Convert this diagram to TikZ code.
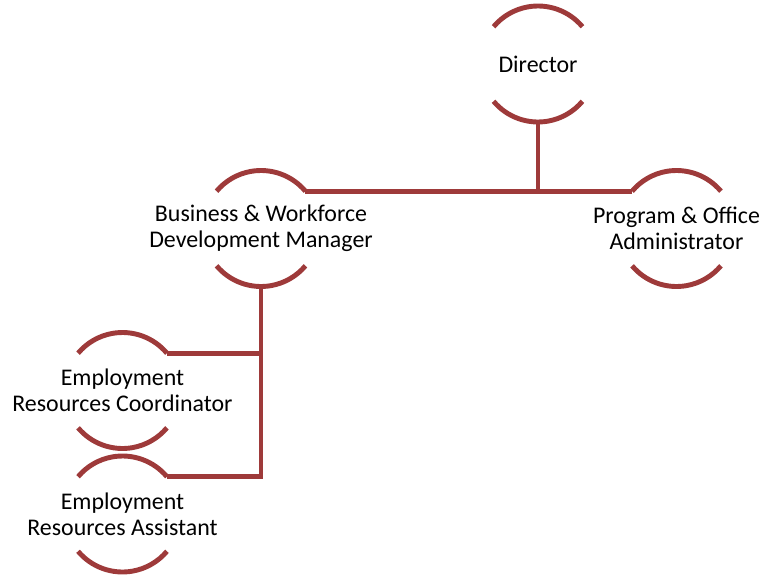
\documentclass[tikz,border=0pt]{standalone}
\usepackage{fontspec}
\setmainfont{Carlito}
\definecolor{orgred}{RGB}{158,58,58}

\begin{document}
\begin{tikzpicture}[ring/.style={orgred, line width=3.5pt},
    post/.style={font=\fontsize{17}{18.3}\selectfont, align=center, inner sep=0pt}]

    \useasboundingbox (0,0) rectangle (19.075,-14.375);

    % The posts
    \node[post] (director) at (13.45,-1.6) {Director};
    \node[post] (manager) at (6.525,-5.7125) {Business \& Workforce\\Development Manager};
    \node[post] (admin) at (16.9125,-5.7125) {Program \& Office\\Administrator};
    \node[post] (coord) at (3.0625,-9.7625) {Employment\\Resources Coordinator};
    \node[post] (assist) at (3.0625,-12.85) {Employment\\Resources Assistant};

    % Two arcs round each post
    \foreach \n in {director,manager,admin,coord,assist}{
        \draw[ring] ([shift={(40:1.45)}]\n.center) arc[start angle=40, end angle=140, radius=1.45];
        \draw[ring] ([shift={(220:1.45)}]\n.center) arc[start angle=220, end angle=320, radius=1.45];
    }

    \coordinate (directorS) at ([shift={(270:1.45)}]director.center);
    \coordinate (managerNE) at ([shift={(40:1.45)}]manager.center);
    \coordinate (managerS) at ([shift={(270:1.45)}]manager.center);
    \coordinate (adminNW) at ([shift={(140:1.45)}]admin.center);
    \coordinate (coordNE) at ([shift={(40:1.45)}]coord.center);
    \coordinate (assistNE) at ([shift={(40:1.45)}]assist.center);

    \draw[ring] (managerNE) -- (adminNW);
    \draw[ring] (directorS) -- (directorS |- managerNE);
    \draw[ring] (managerS) -- (managerS |- assistNE) -- (assistNE);
    \draw[ring] (coordNE) -- (coordNE -| managerS);
\end{tikzpicture}
\end{document}
